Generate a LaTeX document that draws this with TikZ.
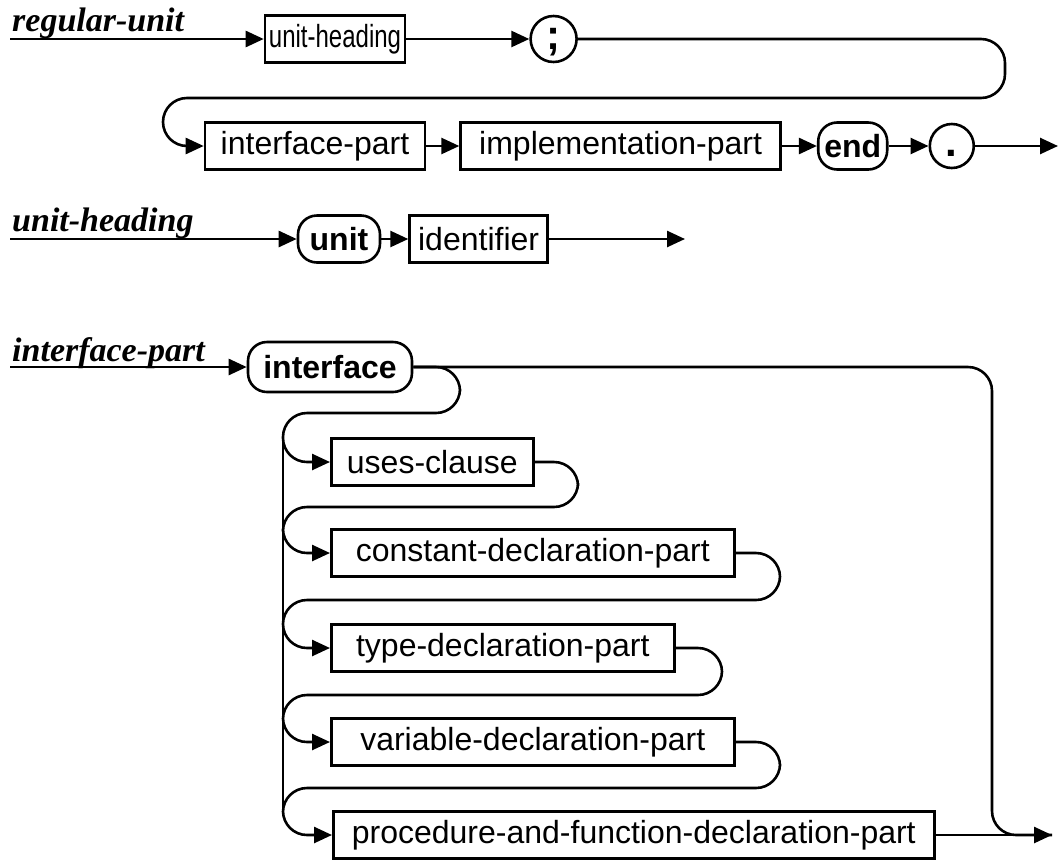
\documentclass[tikz,border=0pt]{standalone}
\usepackage{fontspec}
\setmainfont{Liberation Sans}
\newfontfamily\labelfont{Liberation Serif}
\usetikzlibrary{arrows.meta,positioning}
\tikzset{
  nterm/.style={draw,line width=2.6pt,minimum height=47pt,inner sep=0pt,
    font=\fontsize{32}{36}\selectfont},
  kword/.style={draw,rounded corners=19pt,line width=2.6pt,minimum height=47pt,
    inner sep=0pt,font=\fontsize{32}{36}\selectfont\bfseries},
  tsym/.style={draw,circle,line width=2.6pt,minimum size=46pt,inner sep=0pt,
    text height=24pt,text depth=4pt,font=\fontsize{42}{46}\selectfont\bfseries},
  lbl/.style={anchor=base west,inner sep=0pt,
    font=\labelfont\fontsize{34}{38}\selectfont\bfseries\itshape},
  arrow/.style={-{Triangle[length=18pt,width=16pt]},line width=2.6pt},
  loop/.style={line width=2.6pt,rounded corners=24pt}
}

\begin{document}
\begin{tikzpicture}[x=1pt,y=-1pt]
\useasboundingbox (0,0) rectangle (1062,860);

% regular-unit
\node[lbl] (lru) at (12,31) {regular-unit};
\coordinate (ru0) at (10,39);
\node[nterm,minimum width=140pt] (uh) at (335,39) {\scalebox{0.75}[1]{unit-heading}};
\node[tsym,right=123pt of uh] (semi) {;};
\node[nterm,minimum width=220pt] (ip) at (315,146) {interface-part};
\node[nterm,minimum width=320pt,right=33pt of ip] (impl) {implementation-part};
\node[kword,minimum width=69pt,right=35pt of impl] (endk) {end};
\node[tsym,minimum size=44pt,right=40pt of endk] (dot) {.};
\coordinate (ru9) at (1058,146);

\draw[arrow] (ru0) -- (uh);
\draw[arrow] (uh) -- (semi);
\draw[loop,arrow] (semi.east) -- (1005,39) -- (1005,98) -- (163,98) -- (163,146) -- (ip.west);
\draw[arrow] (ip) -- (impl);
\draw[arrow] (impl) -- (endk);
\draw[arrow] (endk) -- (dot);
\draw[arrow] (dot) -- (ru9);

% unit-heading
\node[lbl] (luh) at (12,231) {unit-heading};
\coordinate (uh0) at (10,239);
\node[kword,minimum width=82pt] (unitk) at (339,239) {unit};
\node[nterm,minimum width=138pt,right=27pt of unitk] (ident) {identifier};
\coordinate (uh9) at (685,239);

\draw[arrow] (uh0) -- (unitk);
\draw[arrow] (unitk) -- (ident);
\draw[arrow] (ident) -- (uh9);

% interface-part
\node[lbl] (lip) at (12,361) {interface-part};
\coordinate (ip0) at (10,367);
\node[kword,minimum width=164pt,minimum height=50pt] (intf) at (330,367) {interface};
\node[nterm,minimum width=202pt,anchor=west] (uses) at (330,462) {uses-clause};
\node[nterm,minimum width=403pt,anchor=west] (const) at (330,553) {constant-declaration-part};
\node[nterm,minimum width=343pt,anchor=west] (type) at (330,648) {type-declaration-part};
\node[nterm,minimum width=403pt,anchor=west] (var) at (330,742) {variable-declaration-part};
\node[nterm,minimum width=601pt,anchor=west] (proc) at (332,835) {procedure-and-function-declaration-part};
\coordinate (ip9) at (1052,835);
\coordinate (vtop) at (283,437);
\coordinate (vbot) at (283,811);

\draw[arrow] (ip0) -- (intf);
\draw[loop] (intf.east) -- (992,367) -- (992,835) -- (ip9);
\draw[loop,arrow] (intf.east) -- (460,367) -- (460,413) -- (283,413) -- (283,462) -- (uses.west);
\draw[loop,arrow] (uses.east) -- (578,462) -- (578,507) -- (283,507) -- (283,553) -- (const.west);
\draw[loop,arrow] (const.east) -- (780,553) -- (780,600) -- (283,600) -- (283,648) -- (type.west);
\draw[loop,arrow] (type.east) -- (722,648) -- (722,695) -- (283,695) -- (283,742) -- (var.west);
\draw[loop,arrow] (var.east) -- (780,742) -- (780,788) -- (283,788) -- (283,835) -- (proc.west);
\draw[line width=2.6pt] (vtop) -- (vbot);
\draw[arrow] (proc) -- (ip9);

\end{tikzpicture}
\end{document}
